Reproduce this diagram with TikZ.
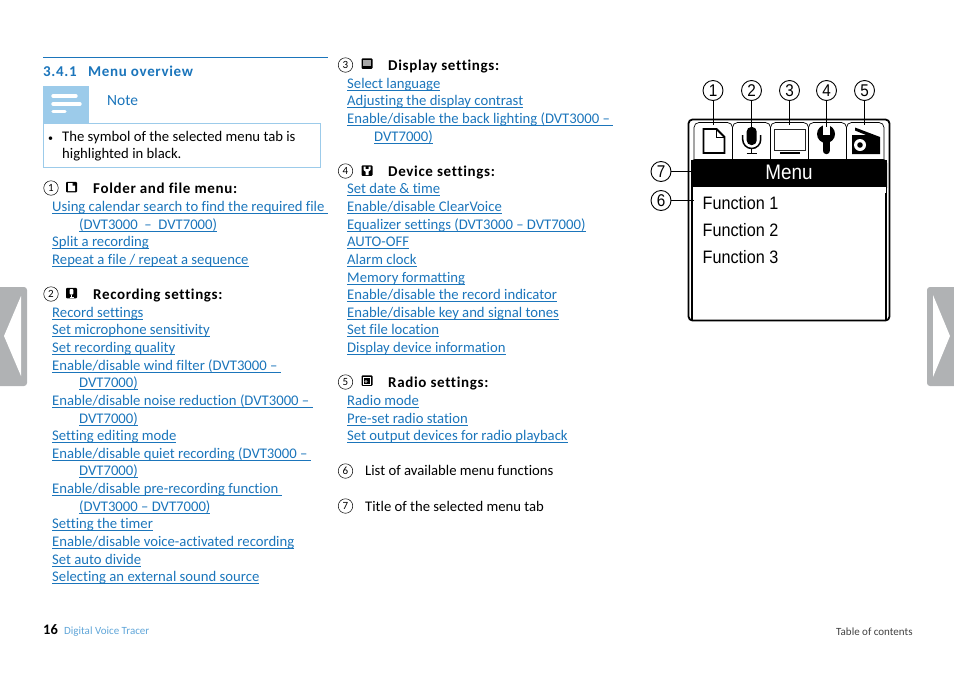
\documentclass[tikz,border=0pt]{standalone}
\usepackage{fontspec}
\setmainfont{Carlito}[RawFeature={-liga}]
\newfontfamily\lcdfont{Liberation Sans}[FakeStretch=0.9]
\newfontfamily\headfont{Carlito Bold}[RawFeature={-liga},LetterSpace=4.4]
\definecolor{linkblue}{HTML}{1B75BB}
\definecolor{footblue}{HTML}{5FA5D8}
\definecolor{lightblue}{HTML}{9CCBEA}
\definecolor{tabgray}{HTML}{B0B2B4}
\newcommand{\lnk}[1]{\leavevmode\setbox0=\hbox{#1}\rlap{\vrule width\wd0 height-1.9pt depth 2.6pt}\box0}
\tikzset{
 txt/.style={anchor=base west, inner sep=0pt, font=\fontsize{14.7}{16}\selectfont},
 link/.style={txt, text=linkblue},
 head/.style={txt, font=\headfont\fontsize{15}{16}\selectfont},
 num/.style={circle, draw, line width=.5pt, minimum width=14.5pt, inner sep=0pt, font=\fontsize{11}{12}\selectfont},
 callout/.style={circle, draw, line width=.9pt, minimum width=20pt, inner sep=0pt, font=\lcdfont\fontsize{17}{18}\selectfont},
 icon/.style={fill=black, rounded corners=1pt, minimum width=11pt, minimum height=10.5pt, inner sep=0pt},
 func/.style={anchor=base west, inner sep=0pt, font=\lcdfont\fontsize{18}{20}\selectfont},
 tab/.style={draw, line width=.7pt, rounded corners=5pt},
 pager/.style={fill=tabgray},
}
\begin{document}
\begin{tikzpicture}[x=1pt,y=-1pt]
\useasboundingbox (0,0) rectangle (954,673);
% header and note
\draw[linkblue,line width=.7pt] (43,57.5) -- (328,57.5);
\draw (43,76) node (title) [head,text=linkblue] {3.4.1};
\draw (88,76) node (titletext) [head,text=linkblue] {Menu overview};
\fill[lightblue] (43,86) rectangle (89,123.5);
\foreach \b/\c in {76/96, 80/104, 65/111.5}
  \draw[white,line width=3.4pt,line cap=round] (53,\c) -- (\b,\c);
\draw (107,105) node (note) [link,font=\fontsize{15.5}{16}\selectfont] {Note};
\draw[lightblue,line width=.8pt] (43.5,123.5) rectangle (320.5,167);
\draw (48,141) node (bullet) [txt,font=\fontsize{10}{12}\selectfont] {•};
\draw (62,141) node (note1) [txt] {The symbol of the selected menu tab is};
\draw (62,158) node (note2) [txt] {highlighted in black.};
% first column
\draw (51,188) node (n1) [num] {1};
\draw (71.5,187) node (i1) [icon] {};
\draw (93,193) node (h1) [head] {Folder and file menu:};
\foreach \x/\y/\t in {
 52/211/{Using calendar search to find the required file\ },
 79/229/{(DVT3000 \ – \ DVT7000)},
 52/246/{Split a recording},
 52/264/{Repeat a file / repeat a sequence},
 52/317/{Record settings},
 52/334/{Set microphone sensitivity},
 52/352/{Set recording quality},
 52/370/{Enable/disable wind filter (DVT3000 –\ },
 79/387/{DVT7000)},
 52/405/{Enable/disable noise reduction (DVT3000 –\ },
 79/423/{DVT7000)},
 52/440/{Setting editing mode},
 52/458/{Enable/disable quiet recording (DVT3000 –\ },
 79/475/{DVT7000)},
 52/493/{Enable/disable pre-recording function\ },
 79/511/{(DVT3000 – DVT7000)},
 52/528/{Setting the timer},
 52/546/{Enable/disable voice-activated recording},
 52/564/{Set auto divide},
 52/581/{Selecting an external sound source},
 % second column
 347/88/{Select language},
 347/105/{Adjusting the display contrast},
 347/123/{Enable/disable the back lighting (DVT3000 –\ },
 374/141/{DVT7000)},
 347/193/{Set date \& time},
 347/211/{Enable/disable ClearVoice},
 347/229/{Equalizer settings (DVT3000 – DVT7000)},
 347/246/{AUTO-OFF},
 347/264/{Alarm clock},
 347/282/{Memory formatting},
 347/299/{Enable/disable the record indicator},
 347/317/{Enable/disable key and signal tones},
 347/334/{Set file location},
 347/352/{Display device information},
 347/405/{Radio mode},
 347/423/{Pre-set radio station},
 347/440/{Set output devices for radio playback}}
  \draw (\x,\y) node [link] {\lnk{\t}};
\draw (51,294) node (n2) [num] {2};
\draw (71.5,293) node (i2) [icon] {};
\draw (93,299) node (h2) [head] {Recording settings:};
\draw (345.5,65) node (n3) [num] {3};
\draw (367,63.5) node (i3) [icon] {};
\draw (388,70) node (h3) [head] {Display settings:};
\draw (345.5,171) node (n4) [num] {4};
\draw (367,170.5) node (i4) [icon] {};
\draw (388,176) node (h4) [head] {Device settings:};
\draw (345.5,382) node (n5) [num] {5};
\draw (367,380.5) node (i5) [icon] {};
\draw (388,387) node (h5) [head] {Radio settings:};
\draw (345.5,471) node (n6) [num] {6};
\draw (365,475) node (l6) [txt] {List of available menu functions};
\draw (345.5,506) node (n7) [num] {7};
\draw (365,511) node (l7) [txt] {Title of the selected menu tab};
% small symbols
\fill[white,shift={(i1)}] (-3.5,-4) -- (1,-4) -- (3.5,-1.5) -- (3.5,4) -- (-3.5,4) -- cycle;
\fill[black,shift={(i1)}] (1,-4) -- (1,-1.5) -- (3.5,-1.5) -- cycle;
\fill[white,shift={(i2)},rounded corners=1pt] (-1.8,-4) rectangle (1.8,1.5);
\draw[white,shift={(i2)},line width=.8pt] (0,1.5) -- (0,4) (-2,4) -- (2,4);
\fill[gray!70,shift={(i3)}] (-4,-3.5) rectangle (4,2);
\fill[white,shift={(i4)}] (-3.5,-4) -- (-1.5,-4) -- (-1.5,-1.5) -- (1.5,-1.5) -- (1.5,-4) -- (3.5,-4) -- (3.5,-.5) -- (1.5,1) -- (1.5,4.5) -- (-1.5,4.5) -- (-1.5,1) -- (-3.5,-.5) -- cycle;
\draw[white,shift={(i5)},line width=.6pt] (-3.5,-3.5) rectangle (3.5,3.5);
\fill[gray!70,shift={(i5)}] (-1,1) circle (1.6);
% footer
\draw (43,634) node (page) [txt,font=\bfseries\fontsize{14.5}{16}\selectfont] {16};
\draw (64,634) node (foot) [txt,text=footblue,font=\fontsize{11}{12}\selectfont] {Digital Voice Tracer};
\draw (836,635) node (toc) [txt,text=black!75,font=\fontsize{11}{12}\selectfont] {Table of contents};
% side arrows
\fill[pager] (0,287) {[rounded corners=3pt] -- (27,287) -- (27,386)} -- (0,386) -- cycle;
\fill[white] (21,296) -- (4,336) -- (21,376) -- cycle;
\fill[pager] (954,287) {[rounded corners=3pt] -- (927,287) -- (927,386)} -- (954,386) -- cycle;
\fill[white] (933,295) -- (950,336) -- (933,377) -- cycle;
% device screen
\draw[line width=1.8pt,rounded corners=4pt,fill=white] (688.5,119.5) rectangle (889.5,320.5);
\draw[line width=1.5pt] (691.8,160) -- (691.8,319.5) (886.2,160) -- (886.2,319.5);
\foreach \a/\b in {694/732.5,732.5/770.5,770.5/808.5,808.5/846.5,846.5/884}
  \draw[tab] (\a,160) -- (\a,122.5) -- (\b,122.5) -- (\b,160);
\fill[rounded corners=4pt] (691,159) rectangle (887,192);
\fill[white] (692.5,186.5) rectangle (885.5,193);
\draw (789,172.5) node (menu) [text=white,inner sep=0pt,font=\lcdfont\fontsize{21}{22}\selectfont] {Menu};
% tab symbols
\draw[line width=1.9pt,line join=miter] (703.5,153) -- (703.5,129) -- (716.5,129) -- (724.5,137) -- (724.5,153) -- cycle;
\draw[line width=1pt] (716.5,129) -- (716.5,137) -- (724.5,137);
\fill[rounded corners=4.5pt] (746.7,127) rectangle (756.7,145);
\draw[line width=1.5pt] (742.7,135) -- (742.7,139.5) arc[start angle=180,end angle=0,radius=9] -- (760.7,135);
\draw[line width=1.5pt] (751.7,148.5) -- (751.7,153.5) (746.5,153.7) -- (757,153.7);
\draw[line width=1.5pt,black!85] (774.5,129.5) rectangle (805.5,150.5);
\draw[line width=2pt] (780,153) -- (800,153);
\fill (826,134) circle (9);
\draw[line width=7.4pt,line cap=round] (826.2,140) -- (826.2,150.5);
\fill[white] (823,124) rectangle (829.5,135);
\fill (852,135) -- (866,135) -- (855,130.5) -- (855,127.5) -- (880,137) -- (880,154) -- (852,154) -- cycle;
\fill[white] (860,145) circle (6);
\fill (860,145) circle (2.8);
\draw (702.5,209) node (f1) [func] {Function 1};
\draw (702.5,236) node (f2) [func] {Function 2};
\draw (702.5,263) node (f3) [func] {Function 3};
% callouts
\draw (713,90.5) node (c1) [callout] {1};
\draw (751.5,90.5) node (c2) [callout] {2};
\draw (789.5,90.5) node (c3) [callout] {3};
\draw (826.5,90.5) node (c4) [callout] {4};
\draw (864.5,90.5) node (c5) [callout] {5};
\draw (661,171.5) node (c7) [callout] {7};
\draw (661,200.5) node (c6) [callout] {6};
\draw (c1) -- (713,125);
\draw (c2) -- (751.5,127);
\draw (c3) -- (789.5,125);
\draw (c4) -- (826.5,127);
\draw (c5) -- (864.5,125);
\draw (c7) -- (691,171.5);
\draw (c6) -- (694,200.5);
\end{tikzpicture}
\end{document}
